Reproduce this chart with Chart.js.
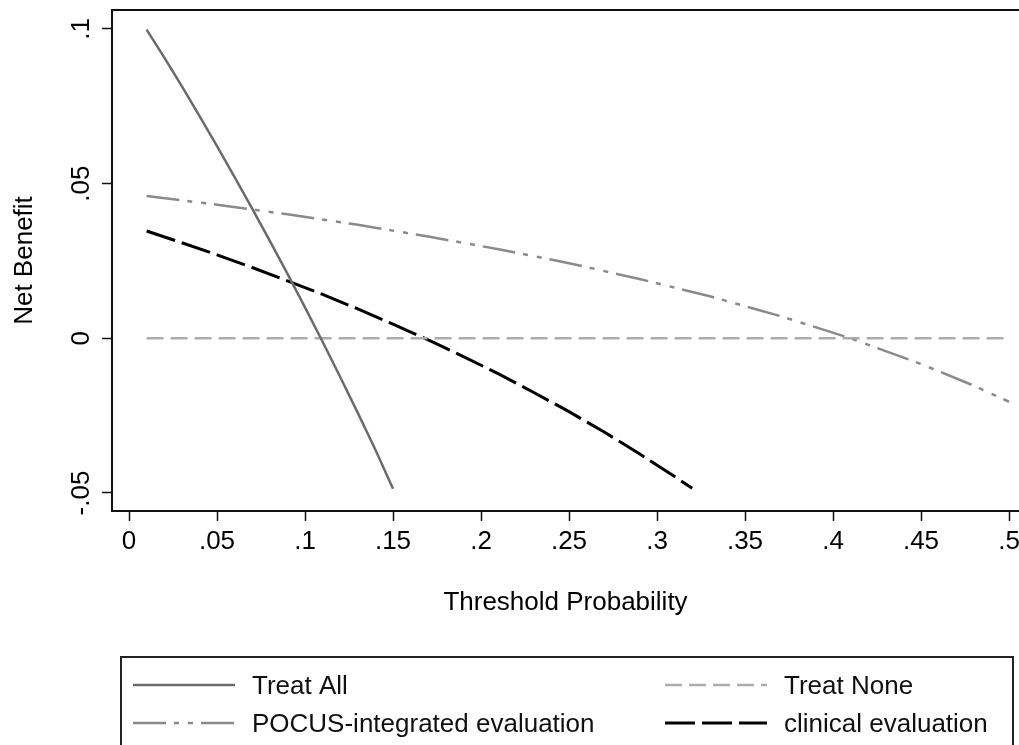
<!DOCTYPE html>
<html>
<head>
<meta charset="utf-8">
<title>Net Benefit</title>
<script src="https://cdn.jsdelivr.net/npm/chart.js@4"></script>
<style>
    html, body { margin: 0; padding: 0; background: #fff; }
    canvas { display: block; }
</style>
</head>
<body>
<canvas id="dcaChart" width="1019" height="745"></canvas>
<script>
// Curvas de decisión: beneficio neto frente a probabilidad umbral

const treatAllX = [0.01, 0.02, 0.03, 0.04, 0.05, 0.06, 0.07, 0.08, 0.09, 0.10, 0.11, 0.12, 0.13, 0.14, 0.15];
const treatAllY = [0.0998, 0.0908, 0.0815, 0.0719, 0.0621, 0.0521, 0.0419, 0.0315, 0.0209, 0.0100, -0.0011, -0.0125, -0.0241, -0.0360, -0.0486];

const treatNoneX = [0.01, 0.5];
const treatNoneY = [0, 0];

const pocusX = [0.01, 0.05, 0.09, 0.13, 0.17, 0.21, 0.25, 0.29, 0.33, 0.37, 0.41, 0.45, 0.48, 0.5];
const pocusY = [0.046, 0.0432, 0.0401, 0.0367, 0.0329, 0.0288, 0.0243, 0.0192, 0.0136, 0.0072, 0.0, -0.0083, -0.0153, -0.0205];

const clinicalX = [0.01, 0.03, 0.05, 0.07, 0.09, 0.11, 0.13, 0.15, 0.17, 0.19, 0.21, 0.23, 0.25, 0.27, 0.29, 0.31, 0.32];
const clinicalY = [0.0347, 0.0309, 0.027, 0.0229, 0.0186, 0.0142, 0.0095, 0.0046, -0.0005, -0.0059, -0.0115, -0.0175, -0.0237, -0.0303, -0.0373, -0.0447, -0.0485];

const xTicks = [0, 0.05, 0.1, 0.15, 0.2, 0.25, 0.3, 0.35, 0.4, 0.45, 0.5];
const xTickLabels = ['0', '.05', '.1', '.15', '.2', '.25', '.3', '.35', '.4', '.45', '.5'];
const yTicks = [-0.05, 0, 0.05, 0.1];
const yTickLabels = ['-.05', '0', '.05', '.1'];

const FONT = '"Liberation Sans", Arial, Helvetica, sans-serif';

function toPoints(xs, ys) {
    return xs.map((x, i) => ({ x: x, y: ys[i] }));
}

// Línea superior del recuadro (el borde derecho queda fuera del lienzo)
const topBorder = {
    id: 'topBorder',
    afterDraw(chart) {
        const { ctx, chartArea } = chart;
        ctx.save();
        ctx.strokeStyle = '#111';
        ctx.lineWidth = 2;
        ctx.beginPath();
        ctx.moveTo(chartArea.left - 1, chartArea.top);
        ctx.lineTo(chart.width, chartArea.top);
        ctx.stroke();
        ctx.restore();
    }
};

// Etiquetas del eje Y giradas 90 grados
const yLabels = {
    id: 'yLabels',
    afterDraw(chart) {
        const { ctx } = chart;
        const scale = chart.scales.y;
        ctx.save();
        ctx.fillStyle = '#000';
        ctx.font = '26px ' + FONT;
        ctx.textAlign = 'center';
        ctx.textBaseline = 'middle';
        yTicks.forEach((v, i) => {
            const py = scale.getPixelForValue(v);
            ctx.save();
            ctx.translate(82, py);
            ctx.rotate(-Math.PI / 2);
            ctx.fillText(yTickLabels[i], 0, 0);
            ctx.restore();
        });
        ctx.restore();
    }
};

// Leyenda en recuadro, dos columnas
const boxLegend = {
    id: 'boxLegend',
    afterDraw(chart) {
        const { ctx } = chart;
        const slots = [
            { x: 133, y: 685 },   // Treat All
            { x: 665, y: 685 },   // Treat None
            { x: 133, y: 723 },   // POCUS
            { x: 665, y: 723 }    // clinical
        ];
        ctx.save();
        ctx.strokeStyle = '#222';
        ctx.lineWidth = 2;
        ctx.strokeRect(121, 657, 892, 200);

        chart.data.datasets.forEach((ds, i) => {
            const s = slots[i];
            ctx.save();
            ctx.strokeStyle = ds.borderColor;
            ctx.lineWidth = ds.borderWidth;
            ctx.setLineDash(ds.borderDash || []);
            ctx.beginPath();
            ctx.moveTo(s.x, s.y);
            ctx.lineTo(s.x + 102, s.y);
            ctx.stroke();
            ctx.restore();

            ctx.fillStyle = '#111';
            ctx.font = '26px ' + FONT;
            ctx.textAlign = 'left';
            ctx.textBaseline = 'middle';
            ctx.fillText(ds.label, s.x + 119, s.y + 2);
        });
        ctx.restore();
    }
};

const ctx = document.getElementById('dcaChart').getContext('2d');
const dcaChart = new Chart(ctx, {
    type: 'line',
    data: {
        datasets: [
            {
                label: 'Treat All',
                data: toPoints(treatAllX, treatAllY),
                borderColor: '#6b6b6b',
                borderWidth: 2.5
            },
            {
                label: 'Treat None',
                data: toPoints(treatNoneX, treatNoneY),
                borderColor: '#ababab',
                borderWidth: 2.5,
                borderDash: [17, 7]
            },
            {
                label: 'POCUS-integrated evaluation',
                data: toPoints(pocusX, pocusY),
                borderColor: '#8a8a8a',
                borderWidth: 2.5,
                borderDash: [33, 8, 5, 9, 5, 8]
            },
            {
                label: 'clinical evaluation',
                data: toPoints(clinicalX, clinicalY),
                borderColor: '#000',
                borderWidth: 3,
                borderDash: [30, 7]
            }
        ]
    },
    options: {
        responsive: false,
        animation: false,
        devicePixelRatio: 1,
        layout: { padding: { top: 10, right: 0, bottom: 104, left: 0 } },
        elements: {
            point: { radius: 0 },
            line: { tension: 0 }
        },
        plugins: {
            legend: { display: false },
            tooltip: { enabled: false }
        },
        scales: {
            x: {
                type: 'linear',
                min: -0.00966,
                max: 0.50568,
                afterBuildTicks: (scale) => { scale.ticks = xTicks.map(v => ({ value: v })); },
                afterFit: (scale) => {
                    scale.height = 130;
                    scale.paddingLeft = 0;
                    scale.paddingRight = 0;
                },
                ticks: {
                    color: '#000',
                    font: { family: FONT, size: 26 },
                    padding: 5,
                    maxRotation: 0,
                    autoSkip: false,
                    callback: (value, index) => xTickLabels[index]
                },
                grid: {
                    drawOnChartArea: false,
                    drawTicks: true,
                    tickLength: 10,
                    tickColor: '#111',
                    tickWidth: 1.5
                },
                border: { display: true, color: '#111', width: 2 },
                title: {
                    display: true,
                    text: 'Threshold Probability',
                    color: '#000',
                    font: { family: FONT, size: 26 },
                    padding: { top: 0, bottom: 23 }
                }
            },
            y: {
                type: 'linear',
                min: -0.05582,
                max: 0.10614,
                afterBuildTicks: (scale) => { scale.ticks = yTicks.map(v => ({ value: v })); },
                afterFit: (scale) => {
                    scale.width = 112;
                    scale.paddingTop = 0;
                    scale.paddingBottom = 0;
                },
                ticks: { display: false },
                grid: {
                    drawOnChartArea: false,
                    drawTicks: true,
                    tickLength: 10,
                    tickColor: '#111',
                    tickWidth: 1.5
                },
                border: { display: true, color: '#111', width: 2 },
                title: {
                    display: true,
                    text: 'Net Benefit',
                    color: '#000',
                    font: { family: FONT, size: 26 },
                    padding: { top: 9, bottom: 0 }
                }
            }
        }
    },
    plugins: [topBorder, yLabels, boxLegend]
});
</script>
</body>
</html>
